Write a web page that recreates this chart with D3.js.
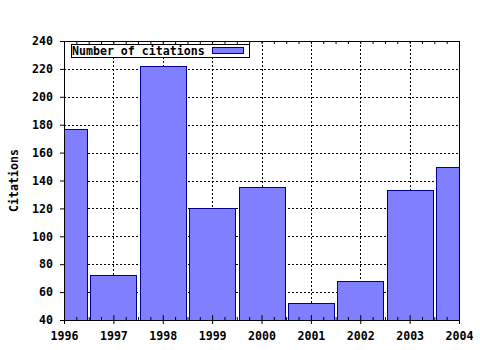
<!DOCTYPE html>
<html>
<head>
<meta charset="utf-8">
<script src="https://cdn.jsdelivr.net/npm/d3@7"></script>
<style>
  body { margin: 0; background: #fff; }
  text { font-family: "DejaVu Sans Mono", monospace; font-weight: bold; font-size: 11.6px; fill: #000; }
</style>
</head>
<body>
<div id="chart"></div>
<script>
// data
let years = [1996, 1997, 1998, 1999, 2000, 2001, 2002, 2003, 2004];
let citations = [177, 72, 222, 120, 135, 52, 68, 133, 150];
let yTicks = [40, 60, 80, 100, 120, 140, 160, 180, 200, 220, 240];
let seriesName = "Number of citations";
let yTitle = "Citations";

const width = 480, height = 350;
const margins = {top: 41, right: 21, bottom: 30, left: 64};

const x_scale = d3.scaleLinear().domain([1996, 2004]).range([margins.left, width - margins.right]);
const y_scale = d3.scaleLinear().domain([40, 240]).range([height - margins.bottom, margins.top]);

const step = x_scale(1997) - x_scale(1996);
const barW = step * 0.93;

const svg = d3.select("#chart").append("svg")
    .attr("width", width)
    .attr("height", height);

const x0 = margins.left, x1 = width - margins.right;
const y0 = height - margins.bottom, y1 = margins.top;

svg.append("clipPath").attr("id", "plotclip")
  .append("rect")
    .attr("x", x0).attr("y", y1)
    .attr("width", x1 - x0).attr("height", y0 - y1);

// grid (dotted)
const grid = svg.append("g").attr("stroke", "#000").attr("stroke-dasharray", "2,2").attr("shape-rendering", "crispEdges");
grid.selectAll(".hgrid")
    .data(yTicks.slice(1, -1))
    .enter().append("line")
    .attr("x1", x0).attr("x2", x1)
    .attr("y1", d => Math.round(y_scale(d)) + 0.5)
    .attr("y2", d => Math.round(y_scale(d)) + 0.5);
grid.selectAll(".vgrid")
    .data(years.slice(1, -1))
    .enter().append("line")
    .attr("y1", y1).attr("y2", y0)
    .attr("x1", d => Math.round(x_scale(d)) + 0.5)
    .attr("x2", d => Math.round(x_scale(d)) + 0.5);

// bars
svg.append("g").attr("clip-path", "url(#plotclip)")
  .selectAll("rect")
  .data(years.map((y, i) => ({year: y, value: citations[i]})))
  .enter().append("rect")
    .attr("x", d => Math.round(x_scale(d.year) - barW / 2) + 0.5)
    .attr("y", d => Math.round(y_scale(d.value)) + 0.5)
    .attr("width", Math.round(barW))
    .attr("height", d => Math.round(y0 - y_scale(d.value)))
    .attr("fill", "#7f7fff")
    .attr("stroke", "#000090")
    .attr("stroke-width", 1);

// frame
svg.append("rect")
    .attr("x", x0 + 0.5).attr("y", y1 + 0.5)
    .attr("width", x1 - x0).attr("height", y0 - y1)
    .attr("fill", "none").attr("stroke", "#000");

// axes
const xAxis = svg.append("g").attr("transform", `translate(0,${y0})`)
    .call(d3.axisBottom(x_scale).tickValues(years).tickFormat(d3.format("d")).tickSize(4).tickPadding(8));
xAxis.select(".domain").remove();
xAxis.selectAll(".tick line").attr("y1", -5);

const minor = d3.range(1996, 2004.01, 0.25).filter(v => !years.includes(v));
svg.append("g").attr("transform", `translate(0,${y0})`)
    .call(d3.axisBottom(x_scale).tickValues(minor).tickSize(-3).tickFormat(""))
    .select(".domain").remove();
const topAxis = svg.append("g").attr("transform", `translate(0,${y1})`)
    .call(d3.axisTop(x_scale).tickValues(d3.range(1996, 2004.01, 0.25)).tickSize(-3).tickFormat(""));
topAxis.select(".domain").remove();

const yAxis = svg.append("g").attr("transform", `translate(${x0},0)`)
    .call(d3.axisLeft(y_scale).tickValues(yTicks).tickSize(4).tickPadding(7));
yAxis.select(".domain").remove();

svg.selectAll(".tick text").style("font-family", "DejaVu Sans Mono, monospace")
    .style("font-weight", "bold").style("font-size", "11.6px").attr("fill", "#000");

// y title
svg.append("text")
    .attr("transform", `translate(18,${(y0 + y1) / 2}) rotate(-90)`)
    .attr("text-anchor", "middle")
    .text(yTitle);

// legend
const legend = svg.append("g");
legend.append("rect")
    .attr("x", 71.5).attr("y", 44.5).attr("width", 178).attr("height", 13)
    .attr("fill", "#fff").attr("stroke", "#000");
legend.append("text")
    .attr("x", 72).attr("y", 55)
    .text(seriesName);
legend.append("rect")
    .attr("x", 212.5).attr("y", 47.5).attr("width", 31).attr("height", 6)
    .attr("fill", "#7f7fff").attr("stroke", "#000090");
</script>
</body>
</html>
